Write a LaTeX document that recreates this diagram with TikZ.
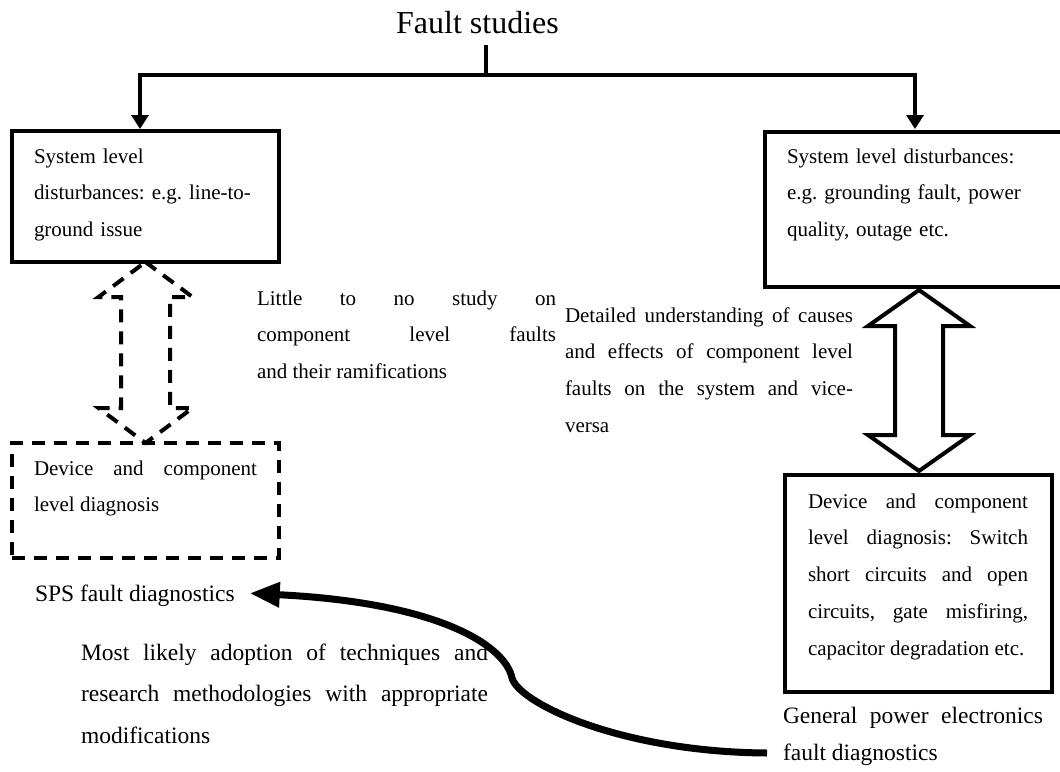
\documentclass[tikz,border=0pt]{standalone}
\usepackage{fontspec}
\setmainfont{Liberation Serif}
\usetikzlibrary{arrows.meta,calc}
\frenchspacing

% text sizes
\newcommand\boxtext{\fontsize{21}{36.8}\selectfont\tolerance=10000\hbadness=10000\hyphenpenalty=10000}
\newcommand\labtext{\fontsize{23.5}{41.5}\selectfont\tolerance=10000\hbadness=10000\hyphenpenalty=10000}
\newcommand\gentext{\fontsize{23.5}{37}\selectfont\tolerance=10000\hbadness=10000\hyphenpenalty=10000}

% double-headed block arrow between two tips (#1 top, #2 bottom)
% #3 head length, #4 head half width, #5 shaft half width, #6 style
\newcommand\blockarrow[6]{%
  \draw[#6] (#1) -- ($(#1)+(#4,#3)$) -- ($(#1)+(#5,#3)$) -- ($(#2)+(#5,-#3)$)
    -- ($(#2)+(#4,-#3)$) -- (#2) -- ($(#2)+(-#4,-#3)$) -- ($(#2)+(-#5,-#3)$)
    -- ($(#1)+(-#5,#3)$) -- ($(#1)+(-#4,#3)$) -- cycle;}

\begin{document}
\begin{tikzpicture}[x=1pt,y=-1pt,
  every node/.style={inner sep=0pt,outer sep=0pt},
  frame/.style={draw,line width=4pt,rectangle,anchor=north west},
  dframe/.style={frame,dash pattern=on 13pt off 9pt},
  inbox/.style={anchor=base west,font=\boxtext,text width=#1,align=left},
  jbox/.style={anchor=base west,font=\boxtext,text width=#1,align=justify},
  conn/.style={line width=3.4pt,line join=miter},
  downarrow/.style={conn,-{Triangle[length=14pt,width=17pt]}},
  hollow/.style={line width=4pt,line join=miter},
  dhollow/.style={hollow,dash pattern=on 13pt off 9pt},
  bigcurve/.style={line width=7pt,-{Triangle[length=30pt,width=24pt]}}]

\useasboundingbox (0,0) rectangle (1060,771);
\clip (0,0) rectangle (1060,771);

% title and tree connector
\node[anchor=base,font=\fontsize{32}{38}\selectfont] (title) at (477.5,33) {Fault studies};
\coordinate (hub) at (486,75);

% frames
\node[frame,minimum width=267pt,minimum height=131pt] (sysL) at (12,131) {};
\node[frame,minimum width=301pt,minimum height=155pt] (sysR) at (765,132) {};
\node[dframe,minimum width=267pt,minimum height=115pt] (devL) at (12,443) {};
\node[frame,minimum width=267pt,minimum height=217pt] (devR) at (785,475) {};

% frame texts
\node[inbox=240pt] (tSysL) at (34,163)
  {System level\\disturbances: e.g. line-to-\\ground issue};
\node[inbox=260pt] (tSysR) at (787,163)
  {System level disturbances:\\e.g. grounding fault, power\\quality, outage etc.};
\node[jbox=223pt] (tDevL) at (34,475)
  {Device and component\linebreak level diagnosis};
\node[jbox=220pt] (tDevR) at (808,508)
  {Device and component\linebreak level diagnosis: Switch\linebreak
   short circuits and open\linebreak circuits, gate misfiring,\linebreak
   capacitor degradation etc.};

% annotations
\node[jbox=299pt] (little) at (257,305)
  {Little to no study on\linebreak component level faults\linebreak and their ramifications};
\node[jbox=288pt] (detail) at (565,322)
  {Detailed understanding of causes\linebreak and effects of component level\linebreak
   faults on the system and vice-\linebreak versa};
\node[anchor=base west,font=\labtext] (sps) at (35,601) {SPS fault diagnostics};
\node[anchor=base west,font=\labtext,text width=407pt,align=justify] (most) at (81,660)
  {Most likely adoption of techniques and\linebreak research methodologies with appropriate\linebreak modifications};
\node[anchor=base west,font=\gentext,text width=260pt,align=justify] (gen) at (783,723)
  {General power electronics\linebreak fault diagnostics};

% tree connector
\draw[conn] ($(title.south -| hub)+(0,12)$) -- (hub);
\draw[downarrow] (hub) -| ($(sysL.north)+(-5.5,-2)$);
\draw[downarrow] (hub) -| ($(sysR.north)+(-0.5,-3)$);

% double block arrows
\blockarrow{sysL.south}{devL.north}{35}{47}{24.5}{dhollow}
\blockarrow{$(sysR.south)+(3.5,3)$}{$(devR.north)+(0.5,-4)$}{36}{51}{24}{hollow}

% curved arrow from the power electronics label to the SPS label
\coordinate (cstart) at (767,753);
\draw[bigcurve] (cstart) .. controls (620,752) and (519,703) .. (512,678)
  .. controls (506,648) and (445,603) .. ($(sps.east)+(15,-2)$);

\end{tikzpicture}
\end{document}
